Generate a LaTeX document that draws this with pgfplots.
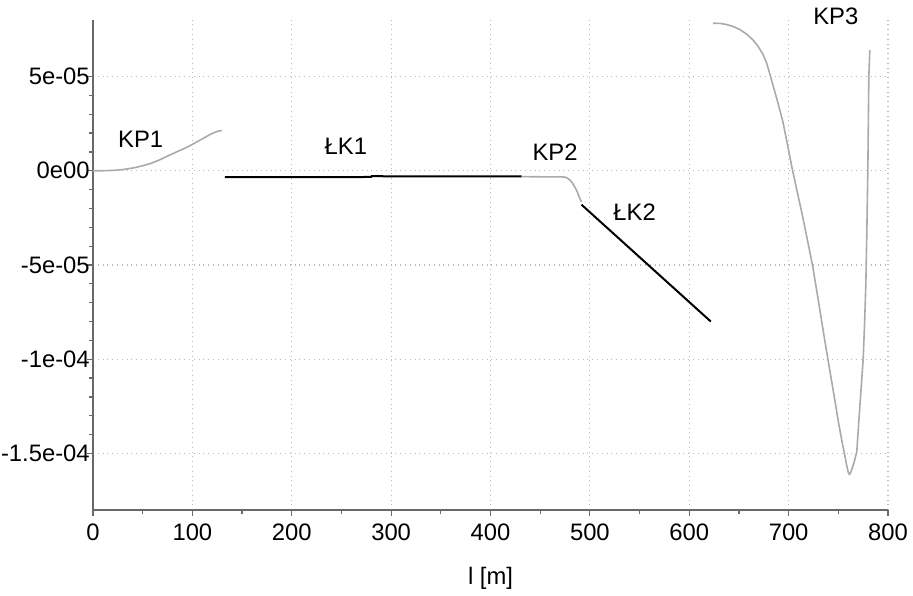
\documentclass[border=0pt]{standalone}
\usepackage{pgfplots}
\pgfplotsset{compat=1.18}
\usepackage{fontspec}
\setmainfont{Liberation Sans}
\definecolor{axgray}{RGB}{105,105,105}
\definecolor{gridgray}{RGB}{185,185,185}
\definecolor{kpgray}{RGB}{170,170,170}
\begin{document}
\fontsize{11.9}{14}\selectfont
\begin{tikzpicture}
\begin{axis}[name=ax, scale only axis, width=397.5pt, height=245pt,
  xmin=0, xmax=800, ymin=-1.8e-4, ymax=8e-5,
  axis lines=left, axis line style={-, draw=axgray, line width=0.8pt},
  xtick={0,100,...,800}, minor x tick num=1,
  ytick={-1.5e-4,-1e-4,-5e-5,0,5e-5},
  yticklabels={-1.5e-04,-1e-04,-5e-05,0e00,5e-05},
  minor y tick num=4, scaled y ticks=false, scaled x ticks=false,
  tick align=outside, major tick length=3pt, minor tick length=2pt,
  every tick/.style={axgray, line width=0.6pt},
  grid=major, major grid style={gridgray, dotted, line width=0.6pt},
  /pgf/number format/assume math mode=true,
  tick label style={font=\fontsize{11.9}{14}\selectfont},
  yticklabel style={xshift=5.5pt},
  label style={font=\fontsize{11.9}{14}\selectfont},
  clip=false,
  xlabel={l [m]},
  xlabel style={at={(axis description cs:0.5,0)}, anchor=center, yshift=-34pt},
]
% KP1
\addplot[kpgray, line width=0.8pt, smooth] coordinates {
 (0,0) (5.3,0) (15,0.1e-6) (25.5,0.4e-6) (34,0.95e-6) (42.3,1.7e-6) (50.5,2.75e-6) (59.1,4.1e-6)
 (67.5,5.9e-6) (75.8,8.0e-6) (84,1.0e-5) (92.6,1.2e-5) (99.3,1.38e-5) (106,1.58e-5) (112.7,1.77e-5)
 (118,1.93e-5) (122.7,2.04e-5) (126.5,2.11e-5) (129.5,2.14e-5)};
% LK1
\addplot[black, line width=1pt] coordinates {
 (132.8,-3.4e-6) (280,-3.3e-6) (280.5,-2.9e-6) (431.3,-3.0e-6)};
% KP2
\addplot[kpgray, line width=0.8pt, smooth] coordinates {
 (431.3,-3.1e-6) (450,-3.2e-6) (473.1,-3.3e-6) (478,-4.2e-6) (481.6,-5.9e-6) (486.6,-1.04e-5)
 (489.9,-1.47e-5) (491.6,-1.65e-5)};
% LK2
\addplot[black, line width=1pt] coordinates {
 (491.6,-1.8e-5) (621.7,-8.0e-5)};
% KP3
\addplot[kpgray, line width=0.8pt, line join=round] coordinates {
 (624,7.83e-5) (631,7.82e-5) (637.5,7.76e-5) (644,7.66e-5) (651,7.49e-5) (657.5,7.26e-5)
 (664,6.95e-5) (669,6.62e-5) (674,6.2e-5) (678,5.7e-5) (681,5.15e-5) (685,4.4e-5)
 (689.5,3.55e-5) (694,2.65e-5) (699,1.35e-5) (704,0) (709,-1.2e-5) (714,-2.4e-5)
 (719,-3.7e-5) (724,-5.0e-5) (729.5,-6.75e-5) (734.5,-8.4e-5) (739.5,-1e-4)
 (745,-1.17e-4) (750,-1.33e-4) (754,-1.445e-4) (756.5,-1.51e-4) (758.5,-1.565e-4)
 (760,-1.6e-4) (761.2,-1.612e-4) (762.5,-1.6e-4) (764.5,-1.57e-4) (766.5,-1.535e-4)
 (768.6,-1.49e-4) (771,-1.3e-4) (773,-1.15e-4) (775,-1e-4) (776.5,-8e-5) (777.7,-6.0e-5)
 (778.7,-3.2e-5) (779.7,0) (780.7,5e-5) (781.7,6.4e-5)};
\node at (axis cs:48,1.68e-5) {KP1};
\node at (axis cs:254.5,1.3e-5) {ŁK1};
\node at (axis cs:465,1.0e-5) {KP2};
\node at (axis cs:545,-2.2e-5) {ŁK2};
\node at (axis cs:747.5,8.2e-5) {KP3};
\end{axis}
\pgfresetboundingbox
\path[use as bounding box] ([shift={(-46.5pt,-42.5pt)}]ax.south west) rectangle ([shift={(12.5pt,10pt)}]ax.north east);
\end{tikzpicture}
\end{document}
